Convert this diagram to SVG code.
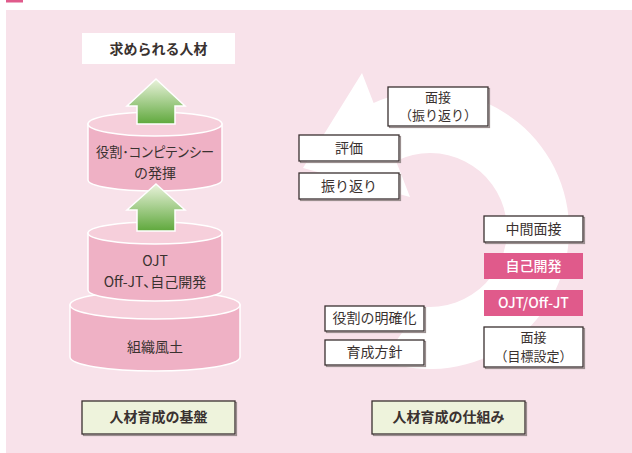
<svg xmlns="http://www.w3.org/2000/svg" width="632" height="453" viewBox="0 0 632 453">
<defs>
<linearGradient id="grn" x1="0" y1="0" x2="0" y2="1">
<stop offset="0" stop-color="#eaf3dc"/>
<stop offset="1" stop-color="#5fa83c"/>
</linearGradient>
<style>
text{font-family:"Noto Sans CJK JP","Noto Sans",sans-serif;fill:#3a3230;text-anchor:middle}
.bx{fill:#ffffff;stroke:#3a3030;stroke-width:1.3}
.sh{fill:none;stroke:#9a8e8e;stroke-width:1.2}
.mg{fill:#e05a8b}
.mt{fill:#ffffff;font-size:14px;font-weight:500}
.t{font-size:14px}
.t2{font-size:13px}
.p{font-feature-settings:"palt"}
.b{font-size:14px;font-weight:bold}
.lb{fill:#eef3dc;stroke:#3a3030;stroke-width:1.3}
.body{fill:#efb1c5;stroke:#ffffff;stroke-width:1.5}
.top{fill:#f6cfdb;stroke:#ffffff;stroke-width:1.5}
.arr{fill:url(#grn);stroke:#ffffff;stroke-width:1.5}
</style>
</defs>
<rect x="6" y="0" width="17" height="2.5" fill="#e05a8b"/>
<rect x="6" y="10" width="626" height="443" fill="#f8e2ea"/>

<g id="cycle">
<path d="M382.5,360.6 A139,139 0 1 0 373.6,103 L362,73 L303,168 L410,197 L396,160.9 A77,77 0 1 1 420.6,306.4 Z" fill="#ffffff"/>
</g>

<g id="goal">
<rect x="82" y="33" width="153" height="31" fill="#ffffff"/>
<text class="b" x="158.5" y="54">求められる人材</text>
</g>

<g id="base3">
<path class="body" d="M70,305 L70,357 A85,14 0 0 0 240,357 L240,305 Z"/>
<ellipse class="top" cx="155" cy="305" rx="85" ry="14"/>
<text class="t" x="155" y="352">組織風土</text>
</g>

<g id="base2">
<path class="body" d="M88,233 L88,290 A67,11 0 0 0 222,290 L222,233 Z"/>
<ellipse class="top" cx="155" cy="233" rx="67" ry="11"/>
<text class="t" x="155" y="266">OJT</text>
<text class="t p" x="155" y="287">Off-JT、自己開発</text>
</g>

<g id="base1">
<path class="body" d="M88,124 L88,180 A67,11 0 0 0 222,180 L222,124 Z"/>
<ellipse class="top" cx="155" cy="124" rx="67" ry="12"/>
<text class="t p" x="155" y="157" textLength="118" lengthAdjust="spacingAndGlyphs">役割･コンピテンシー</text>
<text class="t" x="155" y="178">の発揮</text>
</g>

<g id="connectors">
<path class="arr" d="M156,79 L185,106 L175,106 L175,124 L137,124 L137,106 L127,106 Z"/>
<path class="arr" d="M156,184 L185,210 L175,210 L175,231 L137,231 L137,210 L127,210 Z"/>
</g>

<g id="mensetsu-furikaeri">
<rect class="sh" x="389.5" y="88.5" width="100" height="39"/>
<rect class="bx" x="388" y="87" width="100" height="39"/>
<text class="t2" x="438" y="102">面接</text>
<text class="t2" x="438" y="120">（振り返り）</text>
</g>
<g id="hyoka">
<rect class="sh" x="300.5" y="136.5" width="100" height="26"/>
<rect class="bx" x="299" y="135" width="100" height="26"/>
<text class="t" x="349" y="153">評価</text>
</g>
<g id="furikaeri">
<rect class="sh" x="300.5" y="174.5" width="100" height="26"/>
<rect class="bx" x="299" y="173" width="100" height="26"/>
<text class="t" x="349" y="191">振り返り</text>
</g>
<g id="chukan">
<rect class="sh" x="485.5" y="217.5" width="99" height="26"/>
<rect class="bx" x="484" y="216" width="99" height="26"/>
<text class="t" x="533.5" y="234">中間面接</text>
</g>
<g id="jiko">
<rect class="mg" x="484" y="253" width="99" height="26"/>
<text class="mt" x="533.5" y="271">自己開発</text>
</g>
<g id="ojt">
<rect class="mg" x="484" y="290" width="99" height="26"/>
<text class="mt" x="533.5" y="308">OJT/Off-JT</text>
</g>
<g id="mensetsu-mokuhyo">
<rect class="sh" x="485.5" y="328.5" width="99" height="40"/>
<rect class="bx" x="484" y="327" width="99" height="40"/>
<text class="t2" x="533.5" y="342">面接</text>
<text class="t2" x="533.5" y="361">（目標設定）</text>
</g>
<g id="yakuwari">
<rect class="sh" x="326.5" y="307.5" width="99" height="25"/>
<rect class="bx" x="325" y="306" width="99" height="25"/>
<text class="t" x="374.5" y="323">役割の明確化</text>
</g>
<g id="hoshin">
<rect class="sh" x="326.5" y="341.5" width="99" height="25"/>
<rect class="bx" x="325" y="340" width="99" height="25"/>
<text class="t" x="374.5" y="357">育成方針</text>
</g>

<g id="label-kiban">
<rect class="sh" x="83.5" y="402.5" width="153" height="33"/>
<rect class="lb" x="82" y="401" width="153" height="33"/>
<text class="b" x="158.5" y="422">人材育成の基盤</text>
</g>
<g id="label-shikumi">
<rect class="sh" x="373.5" y="402.5" width="153" height="33"/>
<rect class="lb" x="372" y="401" width="153" height="33"/>
<text class="b" x="448.5" y="422">人材育成の仕組み</text>
</g>
</svg>
